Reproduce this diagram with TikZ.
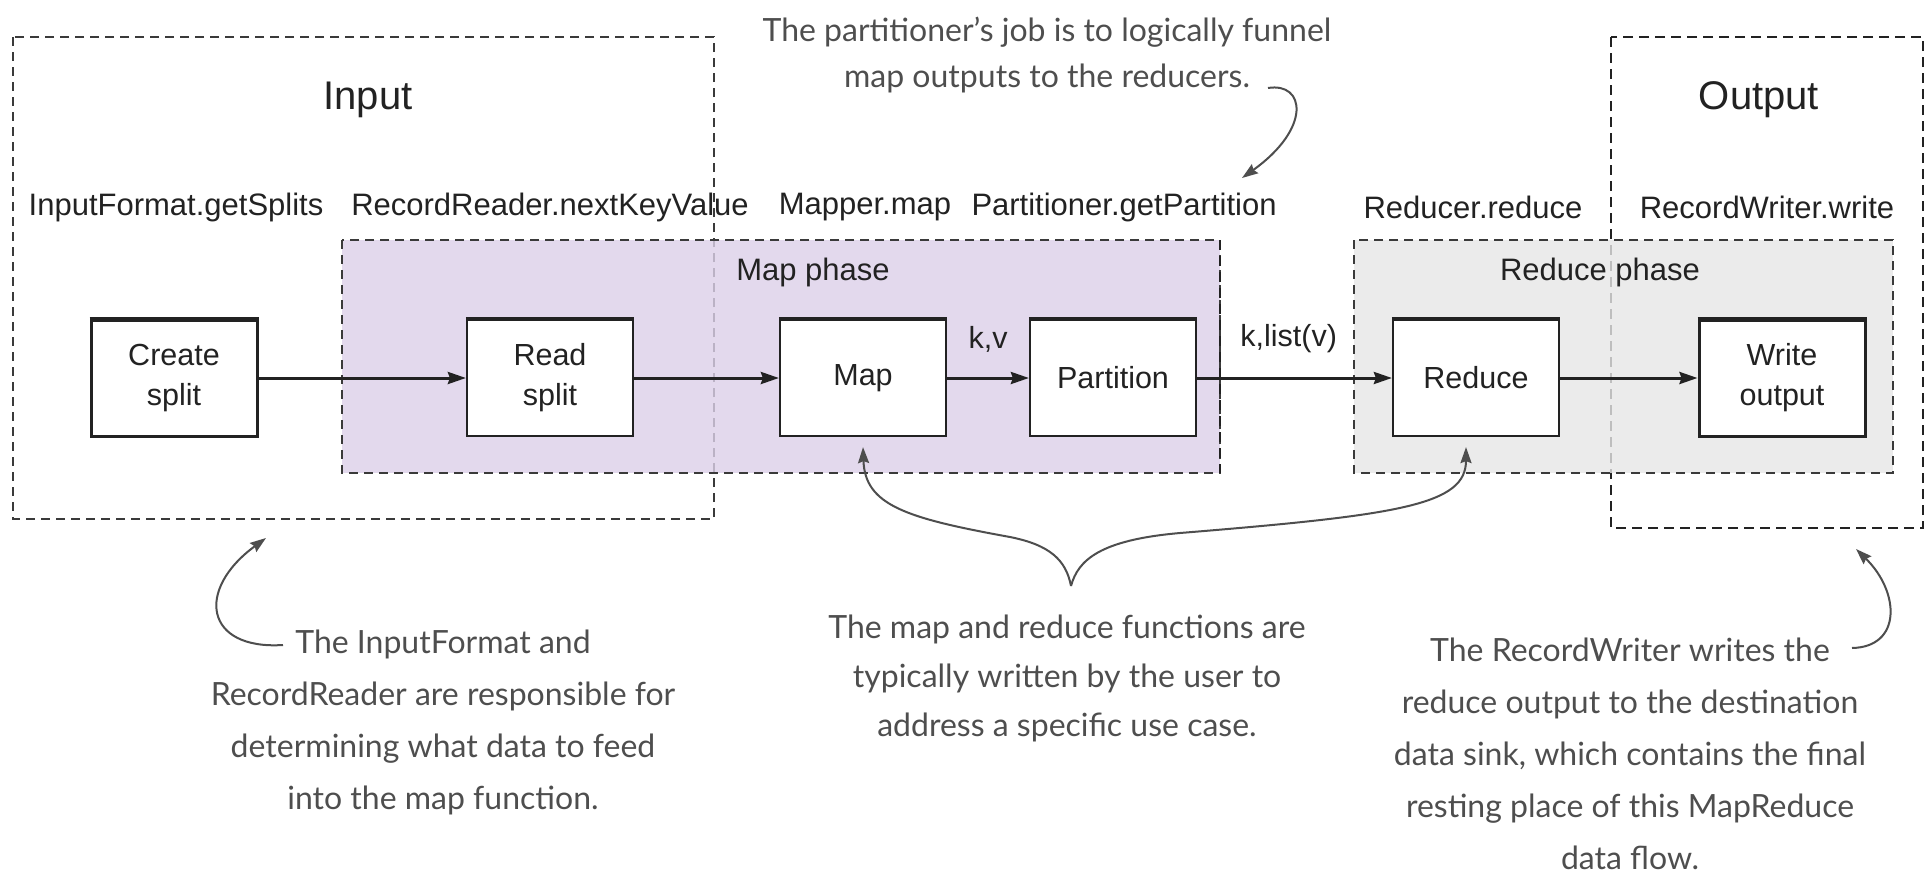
\documentclass[tikz,border=0pt]{standalone}
\usepackage{fontspec}
\setmainfont{Liberation Sans}
\newfontfamily\notefont{Lato}
\usetikzlibrary{arrows.meta}
\definecolor{mapfill}{HTML}{DCD0E8}
\definecolor{redfill}{HTML}{E6E6E6}
\definecolor{ink}{HTML}{222222}
\definecolor{notegray}{HTML}{4E4E4E}
\definecolor{dashgray}{HTML}{3A3A3A}
\begin{document}
\begin{tikzpicture}[x=1pt,y=-1pt,
  every node/.style={font=\fontsize{30.5}{40}\selectfont, text=ink},
  procbox/.style={draw=ink, line width=2.2pt, fill=white, minimum width=166pt,
    minimum height=116pt, inner sep=0pt, align=center},
  boldbox/.style={procbox, line width=3pt},
  boxtop/.style={draw=ink, line width=4pt},
  flow/.style={draw=ink, line width=3pt, -{Stealth[length=18pt,width=12pt,inset=2pt]}},
  region/.style={draw=dashgray, line width=1.6pt, dash pattern=on 9pt off 6pt},
  strongregion/.style={draw=ink, line width=2.6pt, dash pattern=on 10pt off 6pt},
  title/.style={font=\fontsize{40}{48}\selectfont},
  method/.style={font=\fontsize{31}{36}\selectfont},
  flowlabel/.style={font=\fontsize{30.5}{36}\selectfont, yshift=39pt},
  note/.style={font=\notefont\fontsize{32}{52}\selectfont, text=notegray, align=center},
  notearrow/.style={draw=notegray, line width=2pt, -{Stealth[length=16pt,width=11pt,inset=2pt]}},
]
\useasboundingbox (0,0) rectangle (1927,873);

% outer regions
\draw[region] (13,37) rectangle (714,519);
\draw[strongregion] (1611,37) rectangle (1923,528);

% phase regions
\fill[mapfill, fill opacity=0.8] (342,240) rectangle (1220,473);
\fill[redfill, fill opacity=0.8] (1354,240) rectangle (1893,473);
\draw[region] (342,240) rectangle (1220,473);
\draw[region] (1354,240) rectangle (1893,473);
\draw[strongregion] (1220,240) -- (1220,473);

% titles
\node[title] (inputtitle) at (368,100) {Input};
\node[title] (outputtitle) at (1759,100) {Output};

% method labels
\node[method] (m1) at (176,207) {InputFormat.getSplits};
\node[method] (m2) at (550,207) {RecordReader.nextKeyValue};
\node[method] (m3) at (865,207) {Mapper.map};
\node[method] (m4) at (1124,207) {Partitioner.getPartition};
\node[method] (m5) at (1473,207) {Reducer.reduce};
\node[method] (m6) at (1767,207) {RecordWriter.write};

\node[method] (mapphase) at (813,272) {Map phase};
\node[method] (redphase) at (1600,272) {Reduce phase};

% process boxes
\node[boldbox] (create) at (174,378) {Create\\split};
\node[procbox] (read) at (550,378) {Read\\split};
\node[procbox] (map) at (863,378) {Map};
\node[procbox] (part) at (1113,378) {Partition};
\node[procbox] (reduce) at (1476,378) {Reduce};
\node[boldbox] (write) at (1782,378) {Write\\output};
\foreach \b in {create,read,map,part,reduce,write}
  \draw[boxtop] (\b.north west) -- (\b.north east);

% flow arrows
\draw[flow] (create) -- (read);
\draw[flow] (read) -- (map);
\draw[flow] (map) -- node[flowlabel] (kv) {k,v} (part);
\draw[flow] (part) -- node[flowlabel, pos=0.47] (klist) {k,list(v)} (reduce);
\draw[flow] (reduce) -- (write);

% annotations
\node[note, font=\notefont\fontsize{32}{46}\selectfont] (notetop) at (1047,55) {The partitioner’s job is to logically funnel\\map outputs to the reducers.};
\node[note] (noteleft) at (443,722) {The InputFormat and\\RecordReader are responsible for\\determining what data to feed\\into the map function.};
\node[note, font=\notefont\fontsize{32}{49}\selectfont] (notemid) at (1067,678) {The map and reduce functions are\\typically written by the user to\\address a specific use case.};
\node[note] (noteright) at (1630,754) {The RecordWriter writes the\\reduce output to the destination\\data sink, which contains the final\\resting place of this MapReduce\\data flow.};

% annotation arrows
\coordinate (toptail) at (1268,88);
\coordinate (toptip) at (1242,178);
\draw[notearrow] (toptail) .. controls (1305,82) and (1312,128) .. (toptip);

\coordinate (lefttail) at (283,645);
\coordinate (lefttip) at (266,538);
\draw[notearrow] (lefttail) .. controls (205,650) and (195,590) .. (lefttip);

\coordinate (righttail) at (1852,648);
\coordinate (righttip) at (1856,549);
\draw[notearrow] (righttail) .. controls (1902,647) and (1900,592) .. (righttip);

\coordinate (brace) at (1071,586);
\coordinate (maptip) at ([yshift=-10pt]map.south);
\coordinate (redtip) at ([xshift=-10pt,yshift=-10pt]reduce.south);
\draw[notearrow] (brace) .. controls (1066,560) and (1050,545) .. (1010,537)
  .. controls (905,518) and (865,505) .. (maptip);
\draw[notearrow] (brace) .. controls (1078,560) and (1100,540) .. (1180,533)
  .. controls (1400,515) and (1466,505) .. (redtip);
\end{tikzpicture}
\end{document}
